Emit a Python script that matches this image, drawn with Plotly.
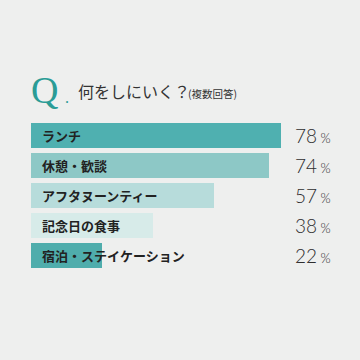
import plotly.graph_objects as go

categories = ["ランチ", "休憩・歓談", "アフタヌーンティー", "記念日の食事", "宿泊・ステイケーション"]
values = [78, 74, 57, 38, 22]
bar_colors = ["#4fb0b0", "#8dc8c6", "#b7dcdb", "#d7ebe9", "#4fadac"]

W, H = 360, 360
L, R = 31, 8
T, B = 120, 89
pw = W - L - R
ph = H - T - B

def px_x(x):
    return (x - L) / pw

def px_y(y):
    return (H - B - y) / ph

ypos = list(range(len(categories)))

fig = go.Figure()
fig.add_trace(go.Bar(
    x=values, y=ypos, orientation="h",
    marker=dict(color=bar_colors, line=dict(width=0)),
    width=0.83, hoverinfo="skip",
))

ann = []
for i, (c, v) in enumerate(zip(categories, values)):
    ann.append(dict(
        x=0, y=i, xref="x", yref="y", text=c, showarrow=False,
        xanchor="left", yanchor="middle", xshift=9,
        font=dict(family="Noto Sans CJK JP", size=13, color="#222222", weight="bold"),
    ))
    ann.append(dict(
        x=px_x(333), y=i, xref="paper", yref="y",
        text=f"{v}<span style='font-size:13px'> %</span>", showarrow=False,
        xanchor="right", yanchor="middle",
        font=dict(family="Lato", size=19, color="#2e2e2e", weight=300),
    ))

# Title
ann.append(dict(x=px_x(29), y=px_y(90), xref="paper", yref="paper", text="Q",
                showarrow=False, xanchor="left", yanchor="middle",
                font=dict(family="Liberation Serif", size=38, color="#2a9c96")))
ann.append(dict(x=px_x(63), y=px_y(97), xref="paper", yref="paper", text=".",
                showarrow=False, xanchor="left", yanchor="middle",
                font=dict(family="Liberation Serif", size=16, color="#2a9c96")))
ann.append(dict(x=px_x(76), y=px_y(91), xref="paper", yref="paper", text="何をしにいく？",
                showarrow=False, xanchor="left", yanchor="middle",
                font=dict(family="Noto Sans CJK JP", size=16, color="#333333")))
ann.append(dict(x=px_x(186), y=px_y(93), xref="paper", yref="paper", text="(複数回答)",
                showarrow=False, xanchor="left", yanchor="middle",
                font=dict(family="Noto Sans CJK JP", size=10.5, color="#333333")))

fig.update_layout(
    width=W, height=H,
    margin=dict(l=L, r=R, t=T, b=B, pad=0),
    paper_bgcolor="#eeefee", plot_bgcolor="#eeefee",
    showlegend=False,
    xaxis=dict(range=[0, 100], visible=False, fixedrange=True),
    yaxis=dict(range=[len(categories) - 0.5, -0.5], visible=False, fixedrange=True),
    annotations=ann,
    bargap=0,
)

fig.write_html(
    "out.html",
    config={"displayModeBar": False},
    post_script="document.body.style.margin='0';document.body.style.background='#eeefee';document.body.style.overflow='hidden';",
)
